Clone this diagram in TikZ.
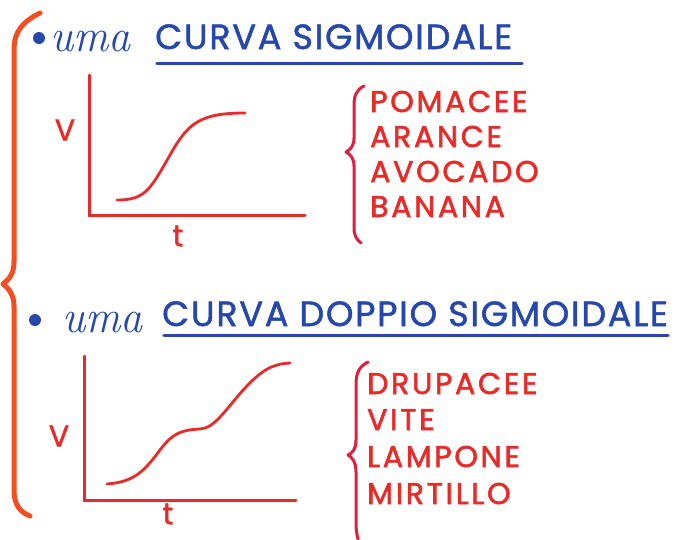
\documentclass[tikz,border=0pt]{standalone}
\usepackage{fontspec}
\newfontfamily\hand[LetterSpace=5,FakeBold=1.5]{Poppins}
\newfontfamily\handred[LetterSpace=9,FakeBold=1.8]{Poppins}
\definecolor{penblue}{RGB}{38,72,172}
\definecolor{penred}{RGB}{232,42,40}
\definecolor{penorange}{RGB}{242,78,34}
\definecolor{penpink}{RGB}{225,30,60}
\newcommand{\umaword}{\scalebox{1.0}[1.05]{uma}}
\tikzset{
  title/.style={anchor=base west, inner sep=0pt, text=penblue, font=\hand\fontsize{35}{35}\selectfont},
  umatext/.style={anchor=base west, inner sep=0pt, text=penblue, font=\itshape\fontsize{44}{44}\selectfont},
  item/.style={anchor=base west, inner sep=0pt, text=penred, font=\handred\fontsize{30}{30}\selectfont},
  axislabel/.style={inner sep=0pt, text=penred, font=\hand\fontsize{30}{30}\selectfont},
  underl/.style={draw=penblue, line width=3.2pt, line cap=round},
  axisline/.style={draw=penred, line width=3pt, line cap=round},
  curveline/.style={draw=penred, line width=2.8pt, line cap=round},
  bigbrace/.style={draw=penorange, line width=5pt, line cap=round, line join=round},
  smallbrace/.style={draw=penpink, line width=3pt, line cap=round, line join=round},
  bulletdot/.style={circle, fill=penblue, inner sep=0pt, minimum size=12pt}
}
\begin{document}
\begin{tikzpicture}[x=1pt,y=-1pt]
\useasboundingbox (0,0) rectangle (677,539);
% big brace
\draw[bigbrace] (40,13) .. controls (22,22) and (14,32) .. (14,50) -- (14,262)
  .. controls (14,275) and (8,280) .. (3,284) .. controls (8,288) and (14,294) .. (14,306)
  -- (14,490) .. controls (14,505) and (20,512) .. (30,516);
% --- first block
\node[bulletdot] (b1) at (39,38) {};
\node[umatext] (u1) at (50,51) {\umaword};
\node[title] (t1) at (155,49) {CURVA SIGMOIDALE};
\draw[underl] (t1.south west) ++(2,14) coordinate (ul1a) -- ++(365,0) coordinate (ul1b);
% graph 1
\coordinate (o1) at (89,215);
\coordinate (y1) at (89,75);
\coordinate (x1) at (305,215);
\draw[axisline] (y1) -- (o1) -- (x1);
\node[axislabel] (v1) at (65,130) {V};
\node[axislabel] (tt1) at (178,236) {t};
\coordinate (c1a) at (117,200);
\coordinate (c1b) at (245,113);
\draw[curveline] (c1a) .. controls (145,200) and (150,190) .. (170,155)
  .. controls (188,123) and (200,113) .. (c1b);
% brace + items
\draw[smallbrace] (364,86) .. controls (356,90) and (354,96) .. (354,106) -- (354,138)
  .. controls (354,146) and (350,150) .. (346,152) .. controls (350,154) and (354,158) .. (354,166)
  -- (354,228) .. controls (354,236) and (357,240) .. (361,243);
\node[item] (p1) at (370,112) {POMACEE};
\node[item] (p2) at (370,147) {ARANCE};
\node[item] (p3) at (370,182) {AVOCADO};
\node[item] (p4) at (370,217) {BANANA};
% --- second block
\node[bulletdot] (b2) at (35,320) {};
\node[umatext] (u2) at (62,332) {\umaword};
\node[title] (t2) at (162,326) {CURVA DOPPIO SIGMOIDALE};
\draw[underl] (t2.south west) ++(2,9) coordinate (ul2a) -- ++(504,0) coordinate (ul2b);
% graph 2
\coordinate (o2) at (84,500);
\coordinate (y2) at (84,356);
\coordinate (x2) at (296,500);
\draw[axisline] (y2) -- (o2) -- (x2);
\node[axislabel] (v2) at (59,436) {V};
\node[axislabel] (tt2) at (168,514) {t};
\coordinate (c2a) at (107,484);
\coordinate (c2b) at (290,363);
\draw[curveline] (c2a) .. controls (135,482) and (145,470) .. (160,450)
  .. controls (172,434) and (180,430) .. (200,429)
  .. controls (215,428) and (225,410) .. (245,388)
  .. controls (262,370) and (272,364) .. (c2b);
% brace + items
\draw[smallbrace] (368,362) .. controls (360,366) and (356,372) .. (356,384) -- (356,440)
  .. controls (356,450) and (352,453) .. (348,455) .. controls (352,457) and (356,462) .. (356,472)
  -- (356,524) .. controls (356,530) and (357,535) .. (358,539);
\node[item] (q1) at (367,394) {DRUPACEE};
\node[item] (q2) at (367,430) {VITE};
\node[item] (q3) at (367,467) {LAMPONE};
\node[item] (q4) at (367,504) {MIRTILLO};
\end{tikzpicture}
\end{document}
